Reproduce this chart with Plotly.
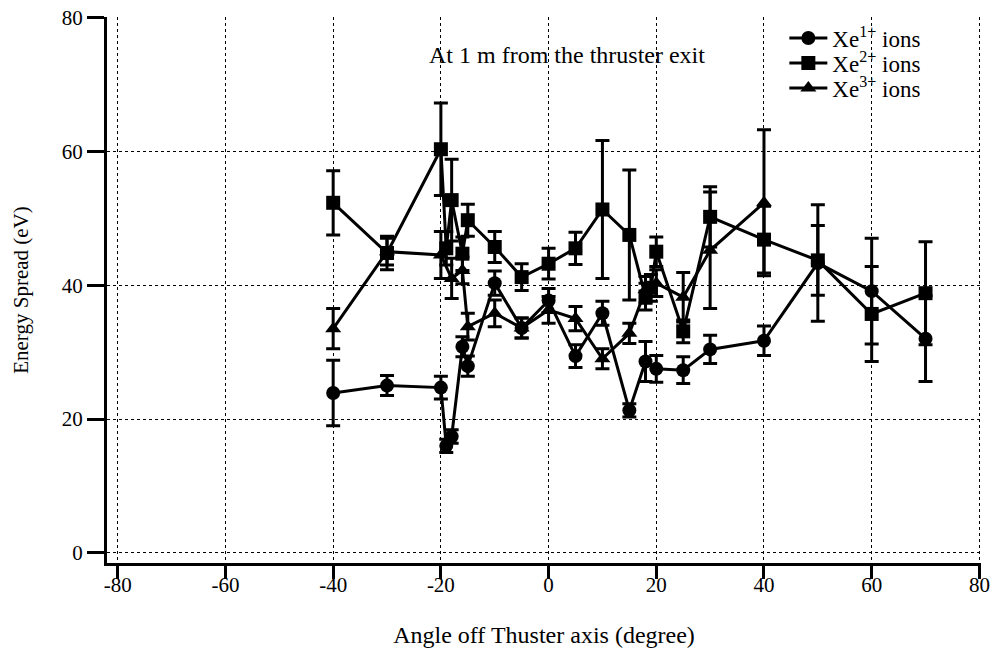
import plotly.graph_objects as go

# Xe1+ ions (circles)
x1 = [-40, -30, -20, -19, -18, -16, -15, -10, -5, 0, 5, 10, 15, 18, 20, 25, 30, 40, 50, 60, 70]
y1 = [23.9, 25.0, 24.7, 16.0, 17.4, 30.8, 27.9, 40.3, 33.6, 37.7, 29.4, 35.8, 21.3, 28.6, 27.5, 27.3, 30.4, 31.7, 43.3, 39.1, 32.0]
e1 = [4.9, 1.5, 1.7, 1.0, 1.0, 1.5, 1.5, 1.8, 1.5, 1.8, 1.7, 1.8, 1.0, 3.0, 2.0, 2.0, 2.1, 2.2, 8.7, 7.9, 6.4]

# Xe2+ ions (squares)
x2 = [-40, -30, -20, -19, -18, -16, -15, -10, -5, 0, 5, 10, 15, 18, 19, 20, 25, 30, 40, 50, 60, 70]
y2 = [52.3, 44.8, 60.3, 45.5, 52.7, 44.7, 49.7, 45.7, 41.2, 43.2, 45.5, 51.3, 47.5, 38.3, 39.6, 45.0, 33.1, 50.2, 46.8, 43.7, 35.7, 38.8]
e2 = [4.8, 2.5, 6.9, 2.5, 6.1, 2.5, 2.4, 2.3, 2.0, 2.3, 2.4, 10.3, 9.7, 2.0, 2.0, 2.2, 1.7, 4.5, 5.0, 5.2, 7.1, 7.7]

# Xe3+ ions (triangles)
x3 = [-40, -30, -20, -18, -16, -15, -10, -5, 0, 5, 10, 15, 18, 20, 25, 30, 40]
y3 = [33.5, 45.0, 44.5, 41.0, 42.2, 33.8, 35.8, 33.6, 36.3, 35.0, 29.0, 32.8, 39.3, 40.3, 38.2, 45.2, 52.3]
e3 = [3.0, 2.0, 3.5, 3.0, 2.0, 2.0, 2.0, 1.5, 2.0, 1.8, 1.5, 1.5, 2.0, 2.0, 3.7, 8.7, 10.9]

names = ["Xe<sup>1+</sup> ions", "Xe<sup>2+</sup> ions", "Xe<sup>3+</sup> ions"]
symbols = ["circle", "square", "triangle-up"]
x_ticks = [-80, -60, -40, -20, 0, 20, 40, 60, 80]
y_ticks = [0, 20, 40, 60, 80]

FONT = "Liberation Serif, Times New Roman, serif"
legend_ids = ["legend", "legend2", "legend3"]
legend_y = [0.9615, 0.9158, 0.870]

fig = go.Figure()
for xs, ys, es, nm, sym, lg in zip([x1, x2, x3], [y1, y2, y3], [e1, e2, e3], names, symbols, legend_ids):
    fig.add_trace(go.Scatter(
        x=xs, y=ys, name=nm, mode="lines+markers", legend=lg,
        line=dict(color="black", width=3),
        marker=dict(symbol=sym, size=14, color="black"),
        error_y=dict(type="data", array=es, visible=True, color="black", thickness=3, width=7),
    ))

fig.add_annotation(x=3.5, y=74.4, text="At 1 m from the thruster exit", showarrow=False,
                   font=dict(family=FONT, size=24, color="black"))

# white backing behind the legend block (hides the grid there, as in the original)
fig.add_shape(type="rect", xref="paper", yref="paper", x0=0.775, x1=0.975, y0=0.845, y1=0.985,
              fillcolor="white", line=dict(width=0), layer="between")

legend_common = dict(x=0.775, xanchor="left", yanchor="middle", bgcolor="rgba(255,255,255,0)",
                     borderwidth=0, font=dict(family=FONT, size=23), itemwidth=38)

fig.update_layout(
    width=995, height=651,
    margin=dict(l=107, r=14, t=17, b=88),
    paper_bgcolor="white", plot_bgcolor="white",
    font=dict(family=FONT, size=21, color="black"),
    showlegend=True,
    legend=dict(y=legend_y[0], **legend_common),
    legend2=dict(y=legend_y[1], **legend_common),
    legend3=dict(y=legend_y[2], **legend_common),
    xaxis=dict(range=[-82, 80.3], tickvals=x_ticks, ticktext=[str(v) for v in x_ticks],
               automargin=False,
               showline=True, linecolor="black", linewidth=3, mirror=False,
               ticks="outside", ticklen=13, tickwidth=3, tickcolor="black",
               tickfont=dict(family=FONT, size=21), ticklabelstandoff=-12,
               showgrid=True, gridcolor="black", gridwidth=1, griddash="dot",
               zeroline=False,
               title=dict(text="Angle off Thuster axis (degree)", standoff=30,
                          font=dict(family=FONT, size=24))),
    yaxis=dict(range=[-1.5, 80.05], tickvals=y_ticks, ticktext=[str(v) for v in y_ticks],
               automargin=False,
               showline=True, linecolor="black", linewidth=3, mirror=False,
               ticks="outside", ticklen=17, tickwidth=3, tickcolor="black",
               tickfont=dict(family=FONT, size=21),
               showgrid=True, gridcolor="black", gridwidth=1, griddash="dot",
               zeroline=False,
               title=dict(text="Energy Spread (eV)", standoff=28,
                          font=dict(family=FONT, size=21))),
)

fig.write_html("out.html")
